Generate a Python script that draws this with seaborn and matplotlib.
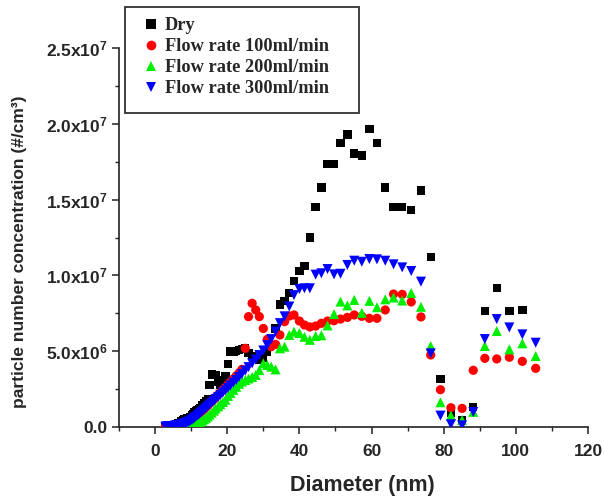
import numpy as np
import pandas as pd
import matplotlib
matplotlib.use("Agg")
import matplotlib.pyplot as plt
from matplotlib.lines import Line2D
from matplotlib.patches import Rectangle
from matplotlib.ticker import FixedLocator, MultipleLocator
import seaborn as sns

# ---------------- data ----------------
diameter = [
    2.89, 3.0, 3.11, 3.22, 3.34, 3.46, 3.59, 3.72, 3.85, 4.0,
    4.14, 4.29, 4.45, 4.61, 4.78, 4.96, 5.14, 5.33, 5.52, 5.72,
    5.94, 6.15, 6.38, 6.61, 6.85, 7.1, 7.37, 7.64, 7.91, 8.2,
    8.51, 8.82, 9.14, 9.47, 9.82, 10.2, 10.6, 10.9, 11.3, 11.8,
    12.2, 12.6, 13.1, 13.6, 14.1, 14.6, 15.1, 15.7, 16.3, 16.8,
    17.5, 18.1, 18.8, 19.5, 20.2, 20.9, 21.7, 22.5, 23.3, 24.1,
    25.0, 25.9, 26.9, 27.9, 28.9, 30.0, 31.1, 32.2, 33.4, 34.6,
    35.9, 37.2, 38.5, 40.0, 41.4, 42.9, 44.5, 46.1, 47.8, 49.6,
    51.4, 53.3, 55.2, 57.3, 59.4, 61.5, 63.8, 66.1, 68.5, 71.0,
    73.7, 76.4, 79.1, 82.0, 85.1, 88.2, 91.4, 94.7, 98.2, 101.8,
    105.5,
]

# values in units of 1e6 #/cm3
dry = [
    0.02, 0.02, 0.03, 0.03, 0.03, 0.04, 0.04, 0.05, 0.05, 0.06,
    0.06, 0.07, 0.07, 0.08, 0.09, 0.10, 0.11, 0.12, 0.13, 0.15,
    0.17, 0.19, 0.22, 0.25, 0.28, 0.32, 0.36, 0.40, 0.45, 0.50,
    0.53, 0.55, 0.56, 0.60, 0.66, 0.75, 0.85, 0.95, 1.05, 1.12,
    1.20, 1.25, 1.43, 1.55, 1.70, 1.85, 2.77, 3.47, 3.45, 3.41,
    3.00, 2.77, 3.10, 3.36, 4.16, 4.97, 4.93, 5.03, 5.08, 5.14,
    5.19, 4.86, 4.68, 4.55, 4.45, 4.53, 4.97, 5.40, 6.49, 8.08,
    8.31, 8.86, 9.61, 10.30, 10.60, 12.50, 14.50, 15.80, 17.35, 17.35,
    18.75, 19.30, 18.05, 17.90, 19.66, 18.75, 15.80, 14.50, 14.50, 14.30,
    15.60, 11.20, 3.15, 0.94, 0.44, 1.32, 7.65, 9.19, 7.63, 7.70,
    np.nan,
]

flow100 = [
    0.02, 0.02, 0.03, 0.03, 0.03, 0.04, 0.04, 0.04, 0.05, 0.05,
    0.05, 0.06, 0.06, 0.07, 0.07, 0.08, 0.08, 0.09, 0.10, 0.11,
    0.12, 0.13, 0.14, 0.15, 0.16, 0.18, 0.20, 0.22, 0.24, 0.27,
    0.30, 0.33, 0.37, 0.41, 0.46, 0.52, 0.58, 0.65, 0.72, 0.80,
    0.89, 0.98, 1.08, 1.18, 1.30, 1.42, 1.55, 1.68, 1.82, 1.97,
    2.12, 2.28, 2.45, 2.62, 2.80, 2.98, 3.17, 3.37, 3.57, 3.80,
    5.19, 7.28, 8.16, 7.72, 7.28, 6.50, 5.78, 5.30, 5.45, 6.07,
    6.95, 7.32, 7.39, 6.99, 6.73, 6.60, 6.66, 6.84, 6.99, 7.01,
    7.12, 7.23, 7.39, 7.30, 7.17, 7.17, 7.72, 8.77, 8.75, 8.25,
    7.26, 4.75, 2.46, 1.27, 1.23, 3.74, 4.53, 4.49, 4.60, 4.33,
    3.87,
]

flow200 = [
    0.02, 0.02, 0.02, 0.02, 0.03, 0.03, 0.03, 0.03, 0.03, 0.03,
    0.03, 0.03, 0.03, 0.04, 0.04, 0.04, 0.04, 0.04, 0.04, 0.05,
    0.05, 0.05, 0.05, 0.06, 0.06, 0.06, 0.07, 0.07, 0.08, 0.08,
    0.09, 0.10, 0.11, 0.12, 0.13, 0.15, 0.17, 0.19, 0.22, 0.25,
    0.30, 0.36, 0.43, 0.51, 0.60, 0.70, 0.82, 0.95, 1.08, 1.22,
    1.36, 1.50, 1.65, 1.80, 2.05, 2.25, 2.45, 2.65, 2.85, 3.00,
    3.10, 3.20, 3.30, 3.43, 3.75, 4.20, 4.09, 3.98, 3.80, 5.19,
    5.30, 6.07, 6.29, 6.20, 5.95, 5.75, 6.00, 6.05, 6.70, 7.45,
    8.27, 8.02, 8.38, 7.53, 8.32, 7.90, 8.42, 8.54, 8.34, 8.84,
    7.93, 5.34, 1.63, 0.75, 0.46, 1.00, 5.34, 6.33, 5.12, 5.52,
    4.68,
]

flow300 = [
    0.01, 0.01, 0.02, 0.02, 0.02, 0.02, 0.03, 0.03, 0.03, 0.04,
    0.04, 0.04, 0.05, 0.05, 0.06, 0.06, 0.07, 0.07, 0.08, 0.09,
    0.10, 0.11, 0.12, 0.13, 0.14, 0.16, 0.17, 0.19, 0.21, 0.23,
    0.26, 0.29, 0.33, 0.37, 0.42, 0.47, 0.53, 0.60, 0.68, 0.76,
    0.85, 0.94, 1.04, 1.14, 1.25, 1.36, 1.48, 1.60, 1.72, 1.85,
    1.98, 2.12, 2.27, 2.42, 2.58, 2.74, 2.92, 3.10, 3.30, 3.50,
    3.72, 3.95, 4.20, 4.45, 4.75, 5.05, 5.40, 5.80, 6.30, 6.85,
    7.30, 7.95, 8.70, 9.10, 9.15, 9.15, 10.05, 10.14, 10.42, 10.07,
    10.11, 10.69, 10.97, 10.90, 11.08, 11.06, 10.97, 10.73, 10.53, 10.29,
    9.59, 4.86, 0.75, 0.18, 0.11, 0.99, 5.80, 7.12, 6.57, 6.11,
    5.56,
]

series_names = ["Dry", "Flow rate 100ml/min", "Flow rate 200ml/min", "Flow rate 300ml/min"]
xticks = [0, 20, 40, 60, 80, 100, 120]
yticks = [0, 5e6, 1e7, 1.5e7, 2e7, 2.5e7]
ytick_labels = ["0.0", "5.0x10$^{6}$", "1.0x10$^{7}$", "1.5x10$^{7}$", "2.0x10$^{7}$", "2.5x10$^{7}$"]

# ---------------- styling ----------------
sns.set_style("ticks")
plt.rcParams["font.family"] = ["Liberation Sans", "DejaVu Sans"]
plt.rcParams["font.weight"] = "bold"
plt.rcParams["mathtext.fontset"] = "custom"
plt.rcParams["mathtext.rm"] = "Liberation Sans:bold"
plt.rcParams["mathtext.bf"] = "Liberation Sans:bold"
plt.rcParams["mathtext.it"] = "Liberation Sans:bold"

frames = []
for name, vals in zip(series_names, [dry, flow100, flow200, flow300]):
    frames.append(pd.DataFrame({"Diameter": diameter,
                                "conc": np.array(vals, dtype=float) * 1e6,
                                "series": name}))
df = pd.concat(frames, ignore_index=True).dropna()

colors = {series_names[0]: "#000000", series_names[1]: "#ff0000",
          series_names[2]: "#00ee00", series_names[3]: "#0000ff"}
markers = {series_names[0]: "s", series_names[1]: "o",
           series_names[2]: "^", series_names[3]: "v"}
sizes = {series_names[0]: 36, series_names[1]: 44,
         series_names[2]: 52, series_names[3]: 52}

fig = plt.figure(figsize=(6.05, 4.99), dpi=100)
ax = fig.add_axes([119 / 605, 1 - 427 / 499, (588 - 119) / 605, (427 - 48) / 499])

for name in series_names:
    sub = df[df["series"] == name]
    sns.scatterplot(data=sub, x="Diameter", y="conc", color=colors[name],
                    marker=markers[name], s=sizes[name], linewidth=0,
                    edgecolor="none", ax=ax, legend=False, zorder=3)

ax.set_xlim(-10, 120)
ax.set_ylim(0, 2.5e7)
ax.xaxis.set_major_locator(FixedLocator(xticks))
ax.xaxis.set_minor_locator(MultipleLocator(10))
ax.yaxis.set_major_locator(FixedLocator(yticks))
ax.yaxis.set_minor_locator(MultipleLocator(2.5e6))
ax.set_yticklabels(ytick_labels)
ax.set_xticklabels([str(t) for t in xticks])

for s in ["top", "right"]:
    ax.spines[s].set_visible(False)
for s in ["left", "bottom"]:
    ax.spines[s].set_linewidth(1.2)
    ax.spines[s].set_color("#222222")

ax.tick_params(axis="both", which="major", direction="out", length=5, width=1.1, color="#222222")
ax.tick_params(axis="both", which="minor", direction="out", length=3, width=1.0, color="#222222")
ax.tick_params(axis="x", which="major", labelsize=12.5, pad=7)
ax.tick_params(axis="y", which="major", labelsize=12.5, pad=3)
for lab in ax.get_xticklabels() + ax.get_yticklabels():
    lab.set_fontweight("bold")

ax.set_xlabel("Diameter (nm)", fontsize=15.5, fontweight="bold")
ax.set_ylabel("particle number concentration (#/cm³)", fontsize=12.5, fontweight="bold")
ax.xaxis.label.set_va("center")
ax.yaxis.label.set_va("center")
ax.xaxis.set_label_coords((362 - 119) / 469, (427 - 486) / 379)
ax.yaxis.set_label_coords((20 - 119) / 469, (427 - 252) / 379)

# legend box
fig.patches.append(Rectangle((125 / 605, 1 - 113 / 499), (359 - 125) / 605, (113 - 7) / 499,
                             transform=fig.transFigure, fill=True, facecolor="white",
                             edgecolor="#333333", linewidth=1.3, zorder=5))
handles = [Line2D([], [], linestyle="none", marker=markers[n], color=colors[n],
                  markersize=7 if n != series_names[0] else 6.5, markeredgewidth=0)
           for n in series_names]
leg = fig.legend(handles, series_names, loc="upper left",
                 bbox_to_anchor=(142 / 605, 1 - 17 / 499), frameon=False,
                 prop={"family": "Liberation Serif", "weight": "bold", "size": 13.2},
                 handlelength=0.95, handletextpad=0.3, labelspacing=0.22,
                 borderpad=0, borderaxespad=0)
leg.set_zorder(6)

fig.savefig("out.png", dpi=100)
